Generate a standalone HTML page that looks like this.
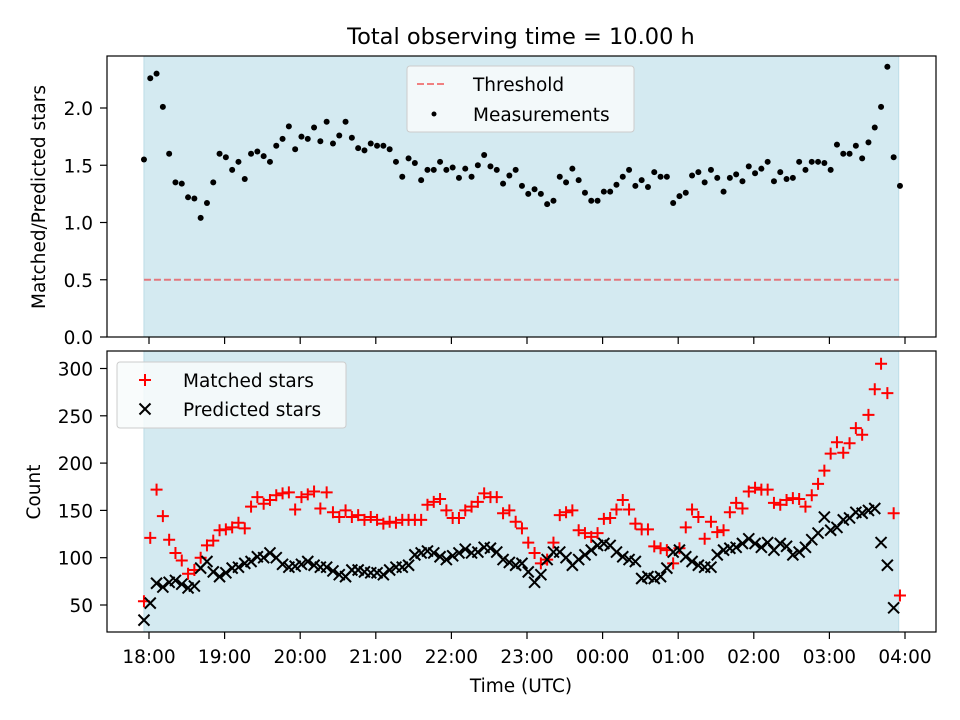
<!DOCTYPE html>
<html><head><meta charset="utf-8"><style>
body{margin:0;background:#fff;}
svg{display:block;font-family:"DejaVu Sans","Liberation Sans",sans-serif;}
</style></head><body>
<svg id="chart" width="960" height="720" viewBox="0 0 960 720" xmlns="http://www.w3.org/2000/svg">
<rect width="960" height="720" fill="#fff"/>
<text x="521" y="44" font-size="22.5" text-anchor="middle">Total observing time = 10.00 h</text>
<g id="top"></g>
<g id="bot"></g>
<text x="521" y="692" font-size="18.5" text-anchor="middle">Time (UTC)</text>
<text transform="translate(45,197) rotate(-90)" font-size="18.5" text-anchor="middle">Matched/Predicted stars</text>
<text transform="translate(40,492) rotate(-90)" font-size="18.5" text-anchor="middle">Count</text>
</svg>
<script>
const xTickLabels=["18:00","19:00","20:00","21:00","22:00","23:00","00:00","01:00","02:00","03:00","04:00"];
const startMin=-4, stepMin=5;
const ratio=[1.55,2.26,2.30,2.01,1.60,1.35,1.34,1.22,1.21,1.04,1.17,1.35,1.60,1.57,1.46,1.53,1.38,1.60,1.62,1.58,1.53,1.67,1.73,1.84,1.64,1.75,1.73,1.83,1.71,1.88,1.69,1.76,1.88,1.74,1.65,1.63,1.69,1.67,1.67,1.64,1.53,1.40,1.56,1.52,1.37,1.46,1.46,1.53,1.46,1.48,1.39,1.47,1.40,1.50,1.59,1.49,1.46,1.34,1.41,1.46,1.32,1.25,1.29,1.25,1.16,1.19,1.40,1.35,1.47,1.37,1.26,1.19,1.19,1.27,1.27,1.33,1.40,1.46,1.32,1.37,1.31,1.44,1.40,1.40,1.17,1.23,1.26,1.41,1.44,1.35,1.46,1.39,1.27,1.39,1.42,1.36,1.49,1.43,1.47,1.53,1.36,1.44,1.38,1.39,1.53,1.46,1.53,1.53,1.52,1.46,1.68,1.60,1.60,1.67,1.56,1.70,1.83,2.01,2.36,1.57,1.32];
const matched=[54,121,172,144,119,105,97,83,87,100,113,118,129,130,132,137,131,154,164,157,161,166,168,169,151,164,167,170,152,169,148,
143,150,143,145,140,143,140,136,138,137,140,140,140,140,156,159,162,150,142,142,150,154,159,168,164,164,147,150,138,131,
116,105,94,98,116,145,148,150,129,126,122,126,141,142,151,161,151,136,130,130,112,110,108,94,110,132,151,143,120,
138,127,129,148,158,152,170,174,172,172,158,156,161,163,162,154,166,178,192,210,222,211,221,237,230,251,278,305,274,147,60];
const predicted=[34,52,73,69,74,76,72,68,70,89,96,85,80,84,89,90,94,96,101,100,105,100,93,90,91,93,96,92,90,90,86,
82,80,87,87,85,84,84,82,87,90,90,92,103,105,107,105,101,98,102,105,109,105,106,111,110,106,98,95,92,
94,85,74,82,98,106,106,100,92,98,103,108,113,115,113,106,101,98,96,78,80,78,80,89,106,108,101,96,92,
90,90,103,108,110,111,115,120,115,111,116,108,115,112,103,106,111,119,126,143,129,132,140,142,148,147,150,152,116,92,47];
const topTicks=[0.0,0.5,1.0,1.5,2.0];
const botTicks=[50,100,150,200,250,300];
const threshold=0.5;
const spanStart=-4, spanEnd=595;

const NS="http://www.w3.org/2000/svg";
const L=107,R=936;
const xScale=m=>149+(m)*(756/600);
const yTop=v=>337-v*114.5;
const yBot=v=>605-(v-50)*0.946;
function mk(tag,attrs,parent){const e=document.createElementNS(NS,tag);for(const k in attrs)e.setAttribute(k,attrs[k]);parent.appendChild(e);return e;}
function axes(g,T,B,name){
  const bg=mk('rect',{x:L,y:T,width:R-L,height:B-T,fill:'#fff'},g);
  
  const sp=mk('rect',{x:xScale(spanStart),y:T,width:xScale(spanEnd)-xScale(spanStart),height:B-T,fill:'#d4eaf1',stroke:'#bcdde8','stroke-width':1},g);
  
}
function frame(g,T,B,name,labels){
  const f=mk('rect',{x:L,y:T,width:R-L,height:B-T,fill:'none',stroke:'#000','stroke-width':1.2},g);
  
  xTickLabels.forEach((lb,i)=>{const x=xScale(i*60);
    const t=mk('line',{x1:x,x2:x,y1:B,y2:B+7,stroke:'#000','stroke-width':1.2},g);
    
    if(labels){const tx=mk('text',{x:x,y:B+31,'font-size':18.5,'text-anchor':'middle'},g);tx.textContent=lb;
      }
  });
}
// top
const gt=document.getElementById('top');
axes(gt,56,337,'top');
const th=mk('line',{x1:xScale(spanStart),x2:xScale(spanEnd),y1:yTop(threshold),y2:yTop(threshold),stroke:'#e2787e','stroke-width':2,'stroke-dasharray':'7,3'},gt);

ratio.forEach((v,i)=>{const c=mk('circle',{cx:xScale(startMin+i*stepMin),cy:yTop(v),r:3,fill:'#000'},gt);
  });
frame(gt,56,337,'top',false);
topTicks.forEach(v=>{const y=yTop(v);mk('line',{x1:L-7,x2:L,y1:y,y2:y,stroke:'#000','stroke-width':1.2},gt);
  const t=mk('text',{x:L-14,y:y+7,'font-size':18.5,'text-anchor':'end'},gt);t.textContent=v.toFixed(1);
  });
// top legend
const lg=mk('g',{},gt);
mk('rect',{x:407,y:66,width:227,height:66,rx:3,fill:'#f8fbfc','fill-opacity':0.85,stroke:'#ccc'},lg);
mk('line',{x1:417,x2:445,y1:84,y2:84,stroke:'#f08080','stroke-width':2,'stroke-dasharray':'7,3'},lg);
let t1=mk('text',{x:473,y:91,'font-size':18.5},lg);t1.textContent='Threshold';
mk('circle',{cx:434,cy:114,r:2.5,fill:'#000'},lg);
let t2=mk('text',{x:473,y:121,'font-size':18.5},lg);t2.textContent='Measurements';
// bottom
const gb=document.getElementById('bot');
axes(gb,351,632,'bottom');
matched.forEach((v,i)=>{const x=xScale(startMin+i*stepMin),y=yBot(v);
  const p=mk('path',{d:`M${x-6},${y}H${x+6}M${x},${y-6}V${y+6}`,stroke:'#f00','stroke-width':2,fill:'none'},gb);
  });
predicted.forEach((v,i)=>{const x=xScale(startMin+i*stepMin),y=yBot(v);
  const p=mk('path',{d:`M${x-5.5},${y-5.5}L${x+5.5},${y+5.5}M${x-5.5},${y+5.5}L${x+5.5},${y-5.5}`,stroke:'#000','stroke-width':2,fill:'none'},gb);
  });
frame(gb,351,632,'bottom',true);
botTicks.forEach(v=>{const y=yBot(v);mk('line',{x1:L-7,x2:L,y1:y,y2:y,stroke:'#000','stroke-width':1.2},gb);
  const t=mk('text',{x:L-14,y:y+7,'font-size':18.5,'text-anchor':'end'},gb);t.textContent=v;
  });
const lb=mk('g',{},gb);
mk('rect',{x:117,y:362,width:229,height:66,rx:3,fill:'#f8fbfc','fill-opacity':0.85,stroke:'#ccc'},lb);
mk('path',{d:'M139,380H151M145,374V386',stroke:'#f00','stroke-width':2},lb);
let t3=mk('text',{x:183,y:387,'font-size':18.5},lb);t3.textContent='Matched stars';
mk('path',{d:'M139.5,403.5L150.5,414.5M139.5,414.5L150.5,403.5',stroke:'#000','stroke-width':2},lb);
let t4=mk('text',{x:183,y:416,'font-size':18.5},lb);t4.textContent='Predicted stars';
</script>
</body></html>
